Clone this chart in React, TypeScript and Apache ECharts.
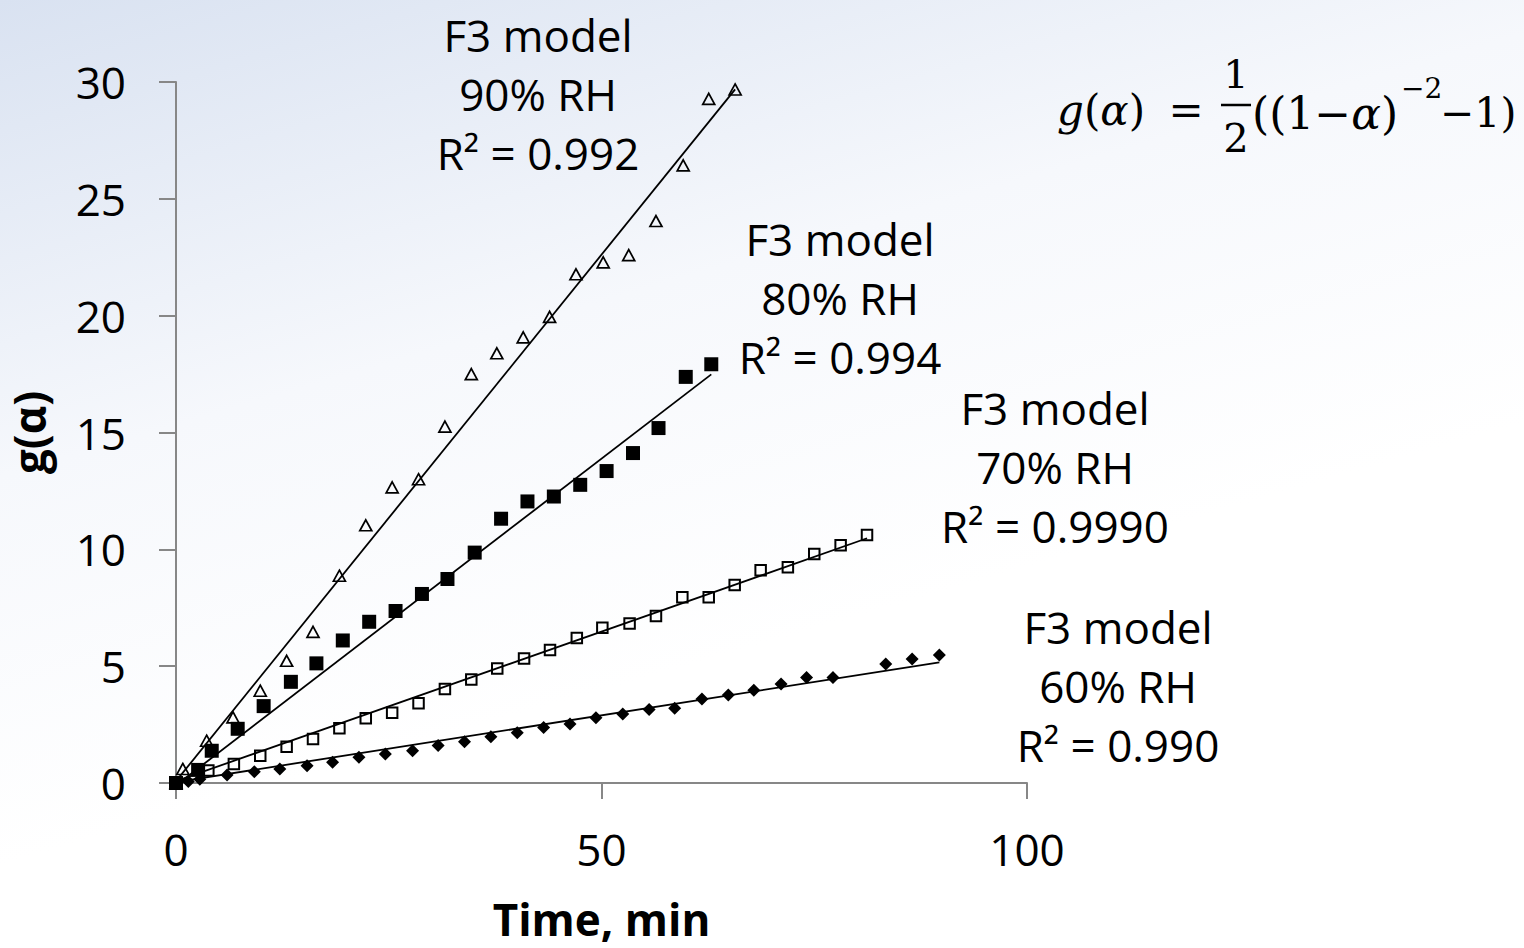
import React, { useEffect, useRef } from "react";
import * as echarts from "echarts";

// ---- data ----
const t90 = [0, 0.8, 3.6, 6.7, 9.9, 13.0, 16.1, 19.2, 22.3, 25.4, 28.5, 31.6, 34.7, 37.7, 40.8, 43.9, 47.0, 50.2, 53.2, 56.4, 59.6, 62.6, 65.7];
const g90 = [0, 0.6, 1.81, 2.81, 3.95, 5.23, 6.47, 8.87, 11.03, 12.65, 13.0, 15.25, 17.5, 18.39, 19.07, 19.95, 21.77, 22.28, 22.59, 24.05, 26.43, 29.28, 29.68];

const t80 = [0, 2.6, 4.2, 7.25, 10.3, 13.5, 16.5, 19.6, 22.7, 25.8, 28.9, 31.9, 35.1, 38.2, 41.3, 44.4, 47.5, 50.6, 53.7, 56.7, 59.9, 62.9];
const g80 = [0, 0.56, 1.38, 2.32, 3.29, 4.33, 5.12, 6.1, 6.9, 7.36, 8.09, 8.73, 9.86, 11.31, 12.05, 12.26, 12.76, 13.35, 14.12, 15.19, 17.38, 17.92];

const t70 = [0, 3.8, 6.8, 9.9, 13.0, 16.1, 19.2, 22.3, 25.4, 28.5, 31.6, 34.7, 37.75, 40.9, 43.95, 47.1, 50.1, 53.3, 56.4, 59.5, 62.6, 65.65, 68.7, 71.9, 75.0, 78.1, 81.2];
const g70 = [0, 0.53, 0.81, 1.17, 1.55, 1.88, 2.34, 2.77, 3.01, 3.41, 4.02, 4.43, 4.9, 5.33, 5.69, 6.21, 6.64, 6.83, 7.15, 7.95, 7.95, 8.47, 9.1, 9.23, 9.8, 10.18, 10.61];

const t60 = [0, 1.45, 2.8, 6.0, 9.2, 12.2, 15.4, 18.4, 21.5, 24.6, 27.8, 30.8, 33.9, 37.0, 40.1, 43.2, 46.3, 49.35, 52.5, 55.6, 58.6, 61.8, 64.9, 67.9, 71.1, 74.1, 77.2, 83.4, 86.5, 89.7];
const g60 = [0, 0.06, 0.16, 0.34, 0.48, 0.6, 0.74, 0.89, 1.1, 1.24, 1.38, 1.6, 1.77, 1.98, 2.15, 2.37, 2.52, 2.79, 2.95, 3.15, 3.2, 3.59, 3.77, 3.97, 4.24, 4.52, 4.52, 5.09, 5.31, 5.48];

// linear trendlines (intercept, slope)
const fit90 = { b: 0.08, m: 0.4506 };
const fit80 = { b: -0.1, m: 0.2796 };
const fit70 = { b: 0.08, m: 0.128 };
const fit60 = { b: 0.04, m: 0.0571 };

const xTicks = [0, 50, 100];
const yTicks = [0, 5, 10, 15, 20, 25, 30];

const labels = [
  { text: "F3 model\n90% RH\nR² = 0.992", x: 538, y: 94 },
  { text: "F3 model\n80% RH\nR² = 0.994", x: 840, y: 298 },
  { text: "F3 model\n70% RH\nR² = 0.9990", x: 1055, y: 467 },
  { text: "F3 model\n60% RH\nR² = 0.990", x: 1118, y: 686 },
];

const FONT = "'Open Sans', sans-serif";
const MATH = "'DejaVu Serif', serif";

function pts(t: number[], g: number[]) {
  return t.map((v, i) => [v, g[i]]);
}
function fitLine(t: number[], f: { b: number; m: number }) {
  const lo = Math.min(...t);
  const hi = Math.max(...t);
  return [
    [lo, f.b + f.m * lo],
    [hi, f.b + f.m * hi],
  ];
}

export default function App() {
  const ref = useRef<HTMLDivElement>(null);
  useEffect(() => {
    if (!ref.current) return;
    const chart = echarts.init(ref.current, undefined, { renderer: "svg" });
    const axisColor = "#878787";
    const lineStyle = { color: "#000", width: 1.8 };
    const trend = (t: number[], f: { b: number; m: number }) => ({
      type: "line",
      data: fitLine(t, f),
      symbol: "none",
      lineStyle,
      z: 5,
      silent: true,
    });
    chart.setOption({
      animation: false,
      backgroundColor: {
        type: "linear",
        x: 0,
        y: 0,
        x2: 0.35,
        y2: 0.75,
        colorStops: [
          { offset: 0, color: "#d9e2f1" },
          { offset: 0.55, color: "#f6f8fc" },
          { offset: 1, color: "#ffffff" },
        ],
      },
      grid: { left: 176, right: 497, top: 82, bottom: 165, containLabel: false, outerBoundsMode: "none" },
      xAxis: {
        type: "value",
        min: xTicks[0],
        max: xTicks[xTicks.length - 1],
        interval: 50,
        axisLine: { show: true, lineStyle: { color: axisColor, width: 2 } },
        axisTick: { show: true, length: 16, lineStyle: { color: axisColor, width: 2 } },
        splitLine: { show: false },
        axisLabel: { fontSize: 44, color: "#000", fontFamily: FONT, margin: 44 },
        name: "Time, min",
        nameLocation: "middle",
        nameGap: 114,
        nameTextStyle: { fontSize: 44, fontWeight: "bold", color: "#000", fontFamily: FONT },
      },
      yAxis: {
        type: "value",
        min: yTicks[0],
        max: yTicks[yTicks.length - 1],
        interval: 5,
        axisLine: { show: true, lineStyle: { color: axisColor, width: 2 } },
        axisTick: { show: true, length: 17, lineStyle: { color: axisColor, width: 2 } },
        splitLine: { show: false },
        axisLabel: { fontSize: 44, color: "#000", fontFamily: FONT, margin: 50 },
        name: "g(α)",
        nameLocation: "middle",
        nameGap: 125,
        nameRotate: 90,
        nameTextStyle: { fontSize: 44, fontWeight: "bold", color: "#000", fontFamily: FONT },
      },
      series: [
        {
          type: "scatter",
          data: pts(t70, g70),
          symbol: "rect",
          symbolSize: 10.5,
          itemStyle: { color: "rgba(255,255,255,0)", borderColor: "#000", borderWidth: 2, opacity: 1 },
          z: 3,
        },
        {
          type: "scatter",
          data: pts(t60, g60),
          symbol: "diamond",
          symbolSize: [13, 13],
          itemStyle: { color: "#000", opacity: 1 },
          z: 3,
        },
        {
          type: "scatter",
          data: pts(t90, g90),
          symbol: "triangle",
          symbolSize: [12, 11],
          itemStyle: { color: "rgba(255,255,255,0)", borderColor: "#000", borderWidth: 1.7, opacity: 1 },
          z: 3,
        },
        {
          type: "scatter",
          data: pts(t80, g80),
          symbol: "rect",
          symbolSize: 14,
          itemStyle: { color: "#000", opacity: 1 },
          z: 4,
        },
        trend(t90, fit90),
        trend(t80, fit80),
        trend(t70, fit70),
        trend(t60, fit60),
      ],
      graphic: [
        ...labels.map((l) => ({
          type: "text",
          x: l.x,
          y: l.y,
          style: {
            text: l.text,
            fontSize: 44,
            fontFamily: FONT,
            fill: "#000",
            align: "center",
            verticalAlign: "middle",
            lineHeight: 59,
          },
          z: 10,
        })),
        {
          type: "text",
          x: 1057,
          y: 110,
          style: {
            text: "{i|g}{n|(}{i|α}{n|)}",
            rich: {
              i: { fontSize: 42, fontStyle: "italic", fontFamily: MATH, fill: "#000" },
              n: { fontSize: 42, fontFamily: MATH, fill: "#000" },
            },
            verticalAlign: "middle",
            align: "left",
          },
        },
        {
          type: "text",
          x: 1186,
          y: 110,
          style: { text: "=", fontSize: 42, fontFamily: MATH, fill: "#000", align: "center", verticalAlign: "middle" },
        },
        {
          type: "text",
          x: 1236,
          y: 74,
          style: { text: "1", fontSize: 40, fontFamily: MATH, fill: "#000", align: "center", verticalAlign: "middle" },
        },
        {
          type: "line",
          shape: { x1: 1221, y1: 105, x2: 1251, y2: 105 },
          style: { stroke: "#000", lineWidth: 2.5 },
        },
        {
          type: "text",
          x: 1236,
          y: 138,
          style: { text: "2", fontSize: 40, fontFamily: MATH, fill: "#000", align: "center", verticalAlign: "middle" },
        },
        {
          type: "text",
          x: 1252,
          y: 113,
          style: {
            text: "{n|((1−}{i|α}{n|)}",
            rich: {
              i: { fontSize: 44, fontStyle: "italic", fontFamily: MATH, fill: "#000" },
              n: { fontSize: 44, fontFamily: MATH, fill: "#000" },
            },
            verticalAlign: "middle",
            align: "left",
          },
        },
        {
          type: "text",
          x: 1401,
          y: 88,
          style: { text: "−2", fontSize: 28, fontFamily: MATH, fill: "#000", align: "left", verticalAlign: "middle" },
        },
        {
          type: "text",
          x: 1440,
          y: 113,
          style: { text: "−1)", fontSize: 41, fontFamily: MATH, fill: "#000", align: "left", verticalAlign: "middle" },
        },
      ],
    });
    return () => chart.dispose();
  }, []);
  return (
    <div
      ref={ref}
      style={{ position: "absolute", left: 0, top: 0, width: 1524, height: 948 }}
    />
  );
}
